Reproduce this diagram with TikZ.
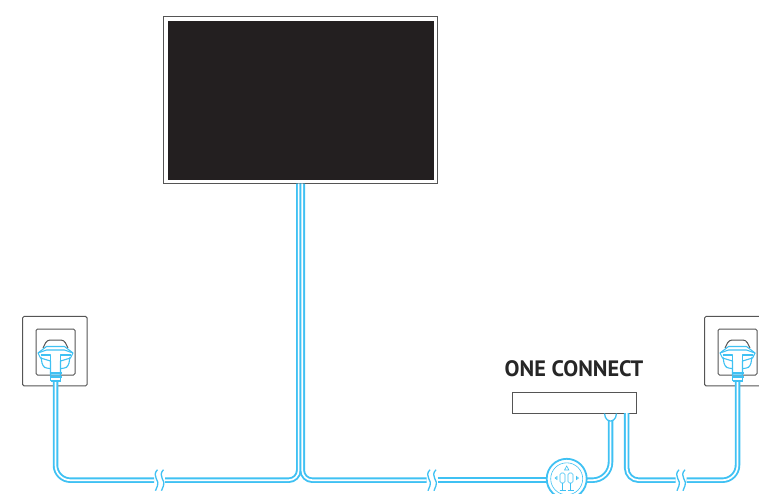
\documentclass[tikz,border=0pt]{standalone}
\usepackage{fontspec}
\setsansfont{PT Sans}
\usetikzlibrary{positioning}
\definecolor{wire}{HTML}{3FC1F3}
\definecolor{frame}{HTML}{555555}
\definecolor{screen}{HTML}{231F20}
\tikzset{
cable/.style={draw=wire,line width=1.9pt,double=white,double distance=1.7pt,rounded corners=#1},
cable/.default=15pt,
thinwire/.style={draw=wire,line width=1.3pt,line join=round},
plugline/.style={draw=wire,line width=1.1pt,line join=round},
icon/.style={draw=wire,line width=.6pt},
wall/.style={draw=frame,line width=1pt,rounded corners=1.5pt,inner sep=0pt,outer sep=0pt},
plug/.pic={
 \draw[frame,line width=1pt,rounded corners=3pt] (-12.5,-37) -- (-8.5,-45) -- (8.5,-45) -- (12.5,-37);
 \draw[plugline,fill=white] (-9,-38.5) -- (9,-38.5) -- (17.5,-32) -- (15,-27) -- (5,-24) -- (5,-10) -- (-5,-10) -- (-5,-24) -- (-15,-27) -- (-17.5,-32) -- cycle;
 \draw[plugline] (-17.5,-32) -- (-9,-35) -- (9,-35) -- (17.5,-32);
 \draw[plugline] (-15,-30) -- (-5,-30) -- (-5,-24);
 \draw[plugline] (15,-30) -- (5,-30) -- (5,-24);
 \draw[plugline,rounded corners=3pt] (-14.5,-28) -- (-13,-19) -- (-9,-16.5) -- (-5,-16.5);
 \draw[plugline,rounded corners=3pt] (14.5,-28) -- (13,-19) -- (9,-16.5) -- (5,-16.5);
 \draw[plugline] (-6,-12) -- (6,-12) (-6,-8) -- (6,-8) (-5,-4) -- (5,-4) (-5,-12) -- (-5,-4) (5,-12) -- (5,-4);
 \coordinate (-tail) at (0,-3);
},
wirebreak/.pic={
 \draw[thinwire] (.5,-10.5) .. controls (-6,-4) and (3.5,1) .. (.5,5.5) .. controls (0,7) and (-1,9) .. (-1.5,10.5);
 \draw[thinwire] (6.5,-10.5) .. controls (0,-4) and (9.5,1) .. (6.5,5.5) .. controls (6,7) and (5,9) .. (4.5,10.5);
 \coordinate (-in) at (-3,0);
 \coordinate (-out) at (8,0);
}
}
\begin{document}
\begin{tikzpicture}[x=1pt,y=-1pt]
\clip (0,0) rectangle (759,493);
% tv
\node[draw=frame,line width=1.4pt,fill=white,minimum width=274pt,minimum height=167pt,inner sep=0pt,outer sep=0pt] (tv) at (300.5,100) {};
\node[fill=screen,minimum width=266pt,minimum height=159pt,inner sep=0pt] (panel) at (tv.center) {};
% wall sockets
\node[wall,minimum width=64.5pt,minimum height=69.5pt] (walla) at (54.8,351.2) {};
\node[wall,minimum width=39pt,minimum height=46pt] (holea) at (55.5,352) {};
\node[wall,minimum width=64.5pt,minimum height=69.5pt] (wallb) at (736.8,351.2) {};
\node[wall,minimum width=39pt,minimum height=46pt] (holeb) at (737.5,352) {};
\pic (pluga) at (55.5,385) {plug};
\pic (plugb) at (737.5,385) {plug};
% one connect
\node[font=\sffamily\bfseries\fontsize{22.3}{25}\selectfont,text=black!85] (label) at (574,368.3) {ONE CONNECT};
\node[draw=frame,line width=1pt,fill=white,minimum width=124pt,minimum height=21pt,inner sep=0pt,outer sep=0pt] (box) at (574,402.5) {};
% breaks
\pic (cuta) at (157,480.2) {wirebreak};
\pic (cutb) at (429.5,480.2) {wirebreak};
\pic (cutc) at (678.5,480.2) {wirebreak};
% cables
\draw[cable=15pt] (pluga-tail) -- (55.5,480.2) -- (cuta-in);
\draw[cable=10pt] ([xshift=-1.75pt]tv.south) -- (298.75,480.2) -- (cuta-out);
\draw[cable=10pt] ([xshift=1.75pt]tv.south) -- (302.25,480.2) -- (cutb-in);
\draw[cable=1pt] (cutb-out) -- (550,480.2);
\draw[cable=18pt] (580,480.2) -- (610.5,480.2) -- (610.5,420);
\draw[cable=12pt] (box.south -| 626.7,0) -- (626.7,480.2) -- (cutc-in);
\draw[cable=15pt] (cutc-out) -- (737.5,480.2) -- (plugb-tail);
\draw[thinwire] (604.5,413.5) .. controls (605,420) and (609,421) .. (610.5,421) .. controls (612,421) and (616,420) .. (616.5,413.5);
% port
\node[draw=wire,line width=1.8pt,circle,fill=white,minimum size=40pt,inner sep=0pt] (port) at (566.7,478.8) {};
\node[icon,circle,minimum size=32pt,inner sep=0pt] (portin) at (port.center) {};
\draw[icon,rounded corners=1.5pt] (560,473) rectangle (565,483);
\draw[icon,rounded corners=1.5pt] (568,473) rectangle (573,483);
\draw[icon] (562.5,483) -- (562.5,490) (570.5,483) -- (570.5,490) (559.5,490) -- (565.5,490) (567.5,490) -- (573.5,490);
\draw[icon] (566.7,466) -- (564.5,470) -- (568.9,470) -- cycle;
\draw[icon] (555,478) -- (557,476.5) -- (557,479.5) -- cycle (578.5,478) -- (576.5,476.5) -- (576.5,479.5) -- cycle;
\end{tikzpicture}
\end{document}
